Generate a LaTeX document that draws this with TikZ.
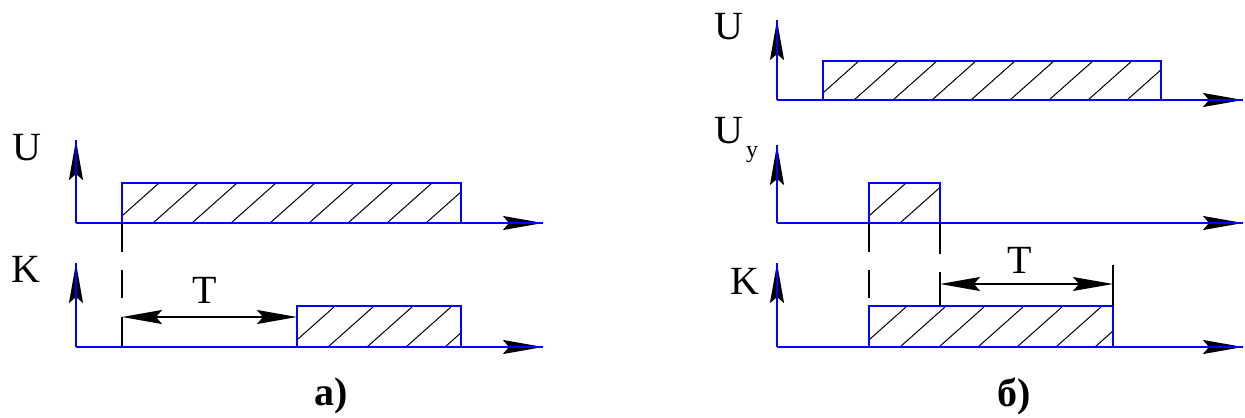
\documentclass[tikz,border=0pt]{standalone}
\usepackage{fontspec}
\setmainfont{Liberation Serif}
\usetikzlibrary{arrows.meta}
\def\hatchbox#1#2#3#4{%
  \begin{scope}
    \clip (#1,#2) rectangle (#3,#4);
    \foreach \k in {-1,...,9}
      \draw[hatch] ({#1-8+39*\k},#4) -- ++(45,-40);
  \end{scope}
  \draw[sig] (#1,#2) rectangle (#3,#4);}

\begin{document}
\begin{tikzpicture}[x=0.5pt,y=-0.5pt,
    sig/.style={blue, line width=1pt},
    hatch/.style={black, line width=0.5pt},
    guide/.style={black, line width=0.8pt},
    axis/.style={sig, -{Stealth[color=black,length=20pt,width=7pt,inset=3pt]}},
    dim/.style={guide, {Stealth[length=20pt,width=7pt,inset=3pt]}-{Stealth[length=20pt,width=7pt,inset=3pt]}},
    lbl/.style={font=\fontsize{20}{24}\selectfont, inner sep=0pt}]
  \useasboundingbox (0,0) rectangle (1245,417);

  % a)
  \coordinate (oUa) at (76,223);  \coordinate (tUa) at (76,140);  \coordinate (eUa) at (543,223);
  \coordinate (oKa) at (76,347);  \coordinate (tKa) at (76,263);  \coordinate (eKa) at (543,347);
  \hatchbox{122}{183}{461}{223}
  \hatchbox{297}{306}{461}{347}
  \draw[axis] (oUa) -- (tUa);
  \draw[sig] (oUa) -- (tUa);
  \draw[axis] (oUa) -- (eUa);
  \draw[sig] (oUa) -- (eUa);
  \draw[axis] (oKa) -- (tKa);
  \draw[sig] (oKa) -- (tKa);
  \draw[axis] (oKa) -- (eKa);
  \draw[sig] (oKa) -- (eKa);
  \coordinate (da1) at (122,223); \coordinate (da2) at (122,252);
  \coordinate (da3) at (122,270); \coordinate (da4) at (122,298);
  \coordinate (da5) at (122,317); \coordinate (da6) at (122,347);
  \coordinate (ta2) at (297,317);
  \draw[guide] (da1) -- (da2) (da3) -- (da4) (da6) -- (da5);
  \draw[dim] (da5) -- (ta2);
  \node[lbl] (lUa) at (27,148) {U};
  \node[lbl] (lKa) at (26,269) {K};
  \node[lbl] (lTa) at (205,290) {T};
  \node[lbl, font=\fontsize{20}{24}\selectfont\bfseries] (capa) at (331,396) {а)};

  % b)
  \coordinate (oUb) at (777,100); \coordinate (tUb) at (777,20);  \coordinate (eUb) at (1243,100);
  \coordinate (oYb) at (777,223); \coordinate (tYb) at (777,145); \coordinate (eYb) at (1243,223);
  \coordinate (oKb) at (777,347); \coordinate (tKb) at (777,263); \coordinate (eKb) at (1243,347);
  \hatchbox{823}{61}{1161}{100}
  \hatchbox{869}{183}{940}{223}
  \hatchbox{869}{306}{1113}{347}
  \foreach \o/\t/\e in {oUb/tUb/eUb, oYb/tYb/eYb, oKb/tKb/eKb} {
    \draw[axis] (\o) -- (\t);
    \draw[sig] (\o) -- (\t);
    \draw[axis] (\o) -- (\e);
    \draw[sig] (\o) -- (\e);
  }
  \coordinate (db1) at (869,223); \coordinate (db2) at (869,252);
  \coordinate (db3) at (869,270); \coordinate (db4) at (869,298);
  \coordinate (dc1) at (940,223); \coordinate (dc2) at (940,254);
  \coordinate (dc3) at (940,272); \coordinate (dc4) at (940,306);
  \coordinate (dd1) at (1113,265); \coordinate (dd2) at (1113,306);
  \coordinate (tb1) at (940,284); \coordinate (tb2) at (1113,284);
  \draw[guide] (db1) -- (db2) (db3) -- (db4) (dc1) -- (dc2) (dc3) -- (dc4) (dd1) -- (dd2);
  \draw[dim] (tb1) -- (tb2);
  \node[lbl] (lUb) at (729,27) {U};
  \node[lbl] (lYb) at (729,131) {U};
  \node[lbl, font=\fontsize{12}{14}\selectfont] (lYs) at (752,155) {y};
  \node[lbl] (lKb) at (745,281) {K};
  \node[lbl] (lTb) at (1020,260) {T};
  \node[lbl, font=\fontsize{20}{24}\selectfont\bfseries] (capb) at (1014,396) {б)};
\end{tikzpicture}
\end{document}
